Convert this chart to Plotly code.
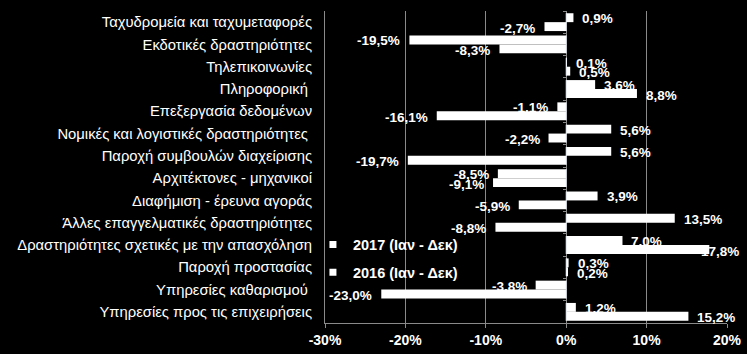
import plotly.graph_objects as go

categories = [
    "Ταχυδρομεία και ταχυμεταφορές",
    "Εκδοτικές δραστηριότητες",
    "Τηλεπικοινωνίες",
    "Πληροφορική ",
    "Επεξεργασία δεδομένων",
    "Νομικές και λογιστικές δραστηριότητες ",
    "Παροχή συμβουλών διαχείρισης",
    "Αρχιτέκτονες - μηχανικοί",
    "Διαφήμιση - έρευνα αγοράς",
    "Άλλες επαγγελματικές δραστηριότητες",
    "Δραστηριότητες σχετικές με την απασχόληση",
    "Παροχή προστασίας",
    "Υπηρεσίες καθαρισμού ",
    "Υπηρεσίες προς τις επιχειρήσεις",
]
series_names = ["2017 (Ιαν - Δεκ)", "2016 (Ιαν - Δεκ)"]
values_2017 = [0.9, -19.5, 0.1, 3.6, -1.1, 5.6, 5.6, -8.5, 3.9, 13.5, 7.0, 0.3, -3.8, 1.2]
values_2016 = [-2.7, -8.3, 0.5, 8.8, -16.1, -2.2, -19.7, -9.1, -5.9, -8.8, 17.8, 0.2, -23.0, 15.2]
x_ticks = [-30, -20, -10, 0, 10, 20]
x_ticktext = ["-30%", "-20%", "-10%", "0%", "10%", "20%"]

GRID = "#8a8a8a"
FONT = "Liberation Sans, Arial, sans-serif"

fig = go.Figure()
for name, vals in zip(series_names, [values_2017, values_2016]):
    fig.add_trace(go.Bar(
        y=categories, x=vals, orientation="h", name=name,
        marker=dict(color="white", line=dict(width=0)),
        showlegend=False, hoverinfo="skip",
    ))

# legend entries with small square markers
for i, name in enumerate(series_names):
    fig.add_trace(go.Scatter(
        x=[None], y=[None], mode="markers", name=name,
        marker=dict(symbol="square", size=7, color="white"),
        legendgroup=f"g{i}",
    ))

# invisible trace to carry the category tick marks on the zero line
fig.add_trace(go.Bar(
    y=categories, x=[0] * len(categories), orientation="h", yaxis="y2",
    marker=dict(color="rgba(0,0,0,0)"), showlegend=False, hoverinfo="skip",
))

def fmt(v):
    return f"{v:.1f}".replace(".", ",") + "%"

label_font = dict(family=FONT, size=13.5, color="white", weight="bold")
largest = max(values_2016 + values_2017)
annotations = []
for si, vals in enumerate([values_2017, values_2016]):
    yshift = 3.5 if si == 0 else -6
    for cat, v in zip(categories, vals):
        gap = -10 if v == largest else 7
        annotations.append(dict(
            x=v, y=cat, text=fmt(v),
            xanchor="left" if v >= 0 else "right",
            xshift=gap if v >= 0 else -gap,
            yshift=yshift, showarrow=False, font=label_font,
        ))

fig.update_layout(
    width=747, height=354,
    margin=dict(l=325, r=20, t=11, b=31, autoexpand=False),
    paper_bgcolor="black", plot_bgcolor="black",
    barmode="group", bargap=0.2, bargroupgap=0,
    font=dict(family=FONT, color="white", size=13),
    xaxis=dict(
        range=[-30, 20], tickmode="array", tickvals=x_ticks, ticktext=x_ticktext,
        showgrid=True, gridcolor=GRID, gridwidth=1,
        zeroline=True, zerolinecolor=GRID, zerolinewidth=1,
        showline=True, linecolor=GRID, linewidth=1,
        ticks="outside", ticklen=4, tickcolor=GRID,
        tickfont=dict(family=FONT, size=14, color="white", weight="bold"),
        ticklabelstandoff=0, automargin=False,
    ),
    yaxis=dict(
        type="category", categoryorder="array", categoryarray=categories,
        range=[13.5, -0.5], showgrid=False, zeroline=False,
        showline=True, linecolor=GRID, linewidth=1, ticks="",
        tickfont=dict(family=FONT, size=14.8, color="white"),
        ticklabelstandoff=9, automargin=False,
    ),
    yaxis2=dict(
        type="category", categoryorder="array", categoryarray=categories,
        range=[13.5, -0.5], overlaying="y", anchor="free", position=0.6, side="left",
        showgrid=False, zeroline=False, showline=False, showticklabels=False,
        ticks="outside", ticklen=3, tickcolor=GRID, tickson="boundaries",
        automargin=False,
    ),
    legend=dict(
        x=-0.03, y=0.303, xanchor="left", yanchor="top",
        bgcolor="rgba(0,0,0,0)", traceorder="grouped", tracegroupgap=6,
        font=dict(family=FONT, size=14.5, color="white", weight="bold"),
        itemwidth=30,
    ),
    annotations=annotations,
)

fig.write_html("out.html")
